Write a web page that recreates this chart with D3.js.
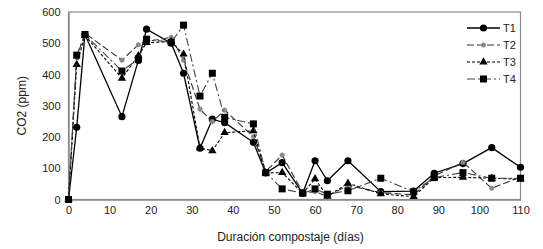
<!DOCTYPE html>
<html>
<head>
<meta charset="utf-8">
<script src="https://cdn.jsdelivr.net/npm/d3@7"></script>
<style>
  body { margin: 0; background: #fff; }
  svg { display: block; font-family: "Liberation Sans", Arial, sans-serif; }
</style>
</head>
<body>
<svg id="chart" width="543" height="249"></svg>
<script>
// días de compostaje
const days = [0, 2, 4, 13, 17, 19, 25, 28, 32, 35, 38, 45, 48, 52, 57, 60, 63, 68, 76, 84, 89, 96, 103, 110];

const t1 = [0, 231, 528, 265, 445, 545, 500, 404, 164, 257, 246, 183, 85, 118, 20, 124, 60, 124, 25, 27, 84, 115, 166, 103];
const t2 = [0, 455, 532, 446, 495, 505, 519, 446, 289, 249, 286, 201, 90, 142, 22, 25, 10, 45, 22, 15, 75, 119, 36, 72];
const t3 = [0, 432, 525, 388, 460, 502, 505, 465, 165, 156, 214, 220, 85, 86, 20, 66, 10, 52, 18, 9, 70, 71, 68, 65];
const t4 = [0, 462, 528, 411, 450, 513, 503, 558, 331, 404, 263, 242, 86, 34, 20, 34, 17, 28, 68, 25, 70, 86, 68, 68];

const seriesNames = ['T1', 'T2', 'T3', 'T4'];
const xTicks = [0, 10, 20, 30, 40, 50, 60, 70, 80, 90, 100, 110];
const yTicks = [0, 100, 200, 300, 400, 500, 600];

const series = [
  { name: 'T1', values: t1, dash: null, stroke: '#000', width: 1.3, marker: 'circle' },
  { name: 'T2', values: t2, dash: '7,3', stroke: '#333', width: 1.1, marker: 'star' },
  { name: 'T3', values: t3, dash: '3,2', stroke: '#000', width: 1.1, marker: 'triangle' },
  { name: 'T4', values: t4, dash: '8,3,2,3', stroke: '#444', width: 1.1, marker: 'square' }
];

const svg = d3.select('#chart');
const margin = { left: 68.5, right: 22.5, top: 12, bottom: 49.5 };
const W = 543, H = 249;

const x = d3.scaleLinear().domain([0, 110]).range([margin.left, W - margin.right]);
const y = d3.scaleLinear().domain([0, 600]).range([H - margin.bottom, margin.top]);

// 枠
svg.append('rect')
  .attr('x', margin.left).attr('y', margin.top)
  .attr('width', x(110) - x(0)).attr('height', y(0) - y(600))
  .attr('fill', 'none').attr('stroke', '#8a8a8a').attr('stroke-width', 1.2);

// 軸
const xAxis = svg.append('g')
  .attr('transform', `translate(0, ${y(0)})`)
  .call(d3.axisBottom(x).tickValues(xTicks).tickSize(0).tickPadding(7));
const yAxis = svg.append('g')
  .attr('transform', `translate(${x(0)}, 0)`)
  .call(d3.axisLeft(y).tickValues(yTicks).tickSize(0).tickPadding(8));

[xAxis, yAxis].forEach(g => {
  g.select('.domain').attr('stroke', '#8a8a8a').attr('stroke-width', 1.5);
  g.selectAll('text').attr('font-size', 11).attr('fill', '#222')
    .attr('font-family', '"Liberation Sans", Arial, sans-serif');
});

// 軸ラベル
svg.append('text')
  .attr('x', (x(0) + x(110)) / 2 - 4).attr('y', 241)
  .attr('text-anchor', 'middle').attr('font-size', 12).attr('fill', '#222')
  .text('Duración compostaje (días)');
svg.append('text')
  .attr('transform', `translate(26, ${(y(0) + y(600)) / 2}) rotate(-90)`)
  .attr('text-anchor', 'middle').attr('font-size', 12).attr('fill', '#222')
  .text('CO2 (ppm)');

const line = d3.line()
  .x((d, i) => x(days[i]))
  .y(d => y(d));

function drawMarker(g, type, cx, cy) {
  if (type === 'circle') {
    g.append('circle').attr('cx', cx).attr('cy', cy).attr('r', 3.6).attr('fill', '#000');
  } else if (type === 'square') {
    g.append('rect').attr('x', cx - 3.5).attr('y', cy - 3.5).attr('width', 7).attr('height', 7).attr('fill', '#000');
  } else if (type === 'triangle') {
    g.append('path').attr('d', d3.symbol(d3.symbolTriangle, 30)()).attr('transform', `translate(${cx},${cy})`).attr('fill', '#000');
  } else {
    g.append('path').attr('d', d3.symbol(d3.symbolCross, 14)()).attr('transform', `translate(${cx},${cy}) rotate(45)`).attr('fill', '#888');
    g.append('path').attr('d', d3.symbol(d3.symbolCross, 14)()).attr('transform', `translate(${cx},${cy})`).attr('fill', '#888');
  }
}

// 系列
series.forEach(s => {
  const g = svg.append('g').attr('class', 'series');
  g.append('path')
    .attr('d', line(s.values))
    .attr('fill', 'none')
    .attr('stroke', s.stroke)
    .attr('stroke-width', s.width)
    .attr('stroke-dasharray', s.dash);
  s.values.forEach((v, i) => drawMarker(g, s.marker, x(days[i]), y(v)));
});

// 凡例
series.forEach((s, i) => {
  const ly = 28 + i * 17;
  const g = svg.append('g').attr('class', 'legend');
  g.append('line')
    .attr('x1', 467).attr('x2', 500).attr('y1', ly).attr('y2', ly)
    .attr('stroke', s.stroke).attr('stroke-width', s.width)
    .attr('stroke-dasharray', s.dash);
  drawMarker(g, s.marker, 483.5, ly);
  g.append('text')
    .attr('x', 503).attr('y', ly).attr('dy', '0.35em')
    .attr('font-size', 11).attr('fill', '#222')
    .text(s.name);
});
</script>
</body>
</html>
